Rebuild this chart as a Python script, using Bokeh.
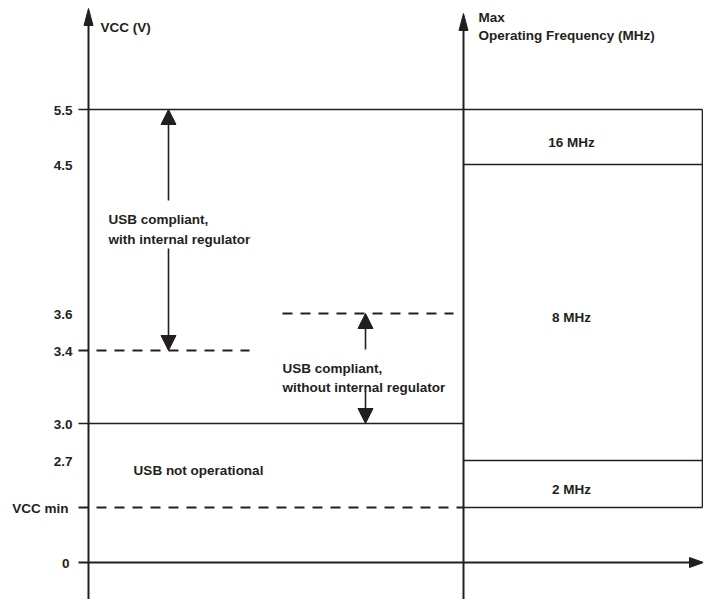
from bokeh.plotting import figure
from bokeh.models import Range1d, Arrow, NormalHead, ColumnDataSource
from bokeh.embed import file_html
from bokeh.resources import INLINE
from bokeh.core.properties import value

# ---------------- data ----------------
vcc_levels = ["5.5", "4.5", "3.6", "3.4", "3.0", "2.7", "VCC min", "0"]
freq_labels = ["16 MHz", "8 MHz", "2 MHz"]
freq_upper = ["5.5", "4.5", "2.7"]
freq_lower = ["4.5", "2.7", "VCC min"]
usb_with_reg = ["3.4", "5.5"]        # USB compliant, with internal regulator
usb_without_reg = ["3.0", "3.6"]     # USB compliant, without internal regulator
usb_not_op = ["VCC min", "3.0"]      # USB not operational
y_axis_title = "VCC (V)"
f_axis_title = ["Max", "Operating Frequency (MHz)"]

# ---------------- layout (diagram positions) ----------------
level_y = dict(zip(vcc_levels, [109, 164, 313, 350, 423, 460, 507, 562]))
X_VAX, X_FAX, X_TICK, X_BOXR = 88, 463, 78, 702
X_A1, X_A2 = 168, 365
INK = "#231f20"
FONT = value("Liberation Sans")
FS = "13.5px"
W, H = 703, 599

p = figure(width=W, height=H, x_range=Range1d(0, W), y_range=Range1d(H, 0),
           output_backend="svg", toolbar_location=None, min_border=0,
           x_axis_location=None, y_axis_location=None)
p.grid.visible = False
p.outline_line_color = None

# axes shafts
p.segment(x0=[X_VAX, X_FAX, X_TICK], y0=[H, H, level_y["0"]],
          x1=[X_VAX, X_FAX, 692], y1=[22, 27, level_y["0"]],
          line_color=INK, line_width=2)
# axis arrowheads
tips = [(X_VAX, 8, "up"), (X_FAX, 13, "up"), (W, level_y["0"], "right")]
xs, ys = [], []
for tx, ty, d in tips:
    if d == "up":
        xs.append([tx, tx - 4.5, tx + 4.5]); ys.append([ty, ty + 17, ty + 17])
    else:
        xs.append([tx, tx - 14, tx - 14]); ys.append([ty, ty - 5, ty + 5])
p.patches(xs, ys, fill_color=INK, line_color=INK, line_width=1)

# solid horizontal lines
solid = [("5.5", X_TICK, X_BOXR), ("3.0", X_TICK, X_FAX),
         (freq_lower[0], X_FAX, X_BOXR), (freq_lower[1], X_FAX, X_BOXR),
         (freq_lower[2], X_FAX, X_BOXR)]
p.segment(x0=[s[1] for s in solid], y0=[level_y[s[0]] for s in solid],
          x1=[s[2] for s in solid], y1=[level_y[s[0]] for s in solid],
          line_color=INK, line_width=1.6)
# box right edge
p.segment(x0=[X_BOXR], y0=[level_y[freq_upper[0]]], x1=[X_BOXR], y1=[level_y[freq_lower[2]]],
          line_color=INK, line_width=1.6)
# dashed lines
dashed = [("3.4", X_TICK, 249), ("3.6", 282, 453), ("VCC min", X_TICK, X_FAX)]
p.segment(x0=[d[1] for d in dashed], y0=[level_y[d[0]] for d in dashed],
          x1=[d[2] for d in dashed], y1=[level_y[d[0]] for d in dashed],
          line_color=INK, line_width=2, line_dash="10 8")

# range arrows
def add_arrow(x, y_start, y_end):
    p.add_layout(Arrow(end=NormalHead(size=15, fill_color=INK, line_color=INK, line_width=1),
                       x_start=x, y_start=y_start, x_end=x, y_end=y_end,
                       line_color=INK, line_width=1.6))

add_arrow(X_A1, 200, level_y[usb_with_reg[1]])
add_arrow(X_A1, 248, level_y[usb_with_reg[0]])
add_arrow(X_A2, 349, level_y[usb_without_reg[1]])
add_arrow(X_A2, 391, level_y[usb_without_reg[0]])

# level labels
lab_x = {"0": 69, "VCC min": 68}
lab_src = ColumnDataSource(dict(x=[lab_x.get(l, 72) for l in vcc_levels],
                                y=[level_y[l] + 1 for l in vcc_levels],
                                t=vcc_levels))
p.text(x="x", y="y", text="t", source=lab_src, text_align="right",
       text_baseline="alphabetic", text_font=FONT, text_font_size=FS,
       text_font_style="bold", text_color=INK)

# frequency labels
fx = [571] * 3
fy = [(level_y[u] + level_y[l]) / 2 + 5 for u, l in zip(freq_upper, freq_lower)]
p.text(x=fx, y=fy, text=freq_labels, text_align="center", text_baseline="alphabetic",
       text_font=FONT, text_font_size=FS, text_font_style="bold", text_color=INK)

# region texts
rt = ["USB compliant,", "with internal regulator",
      "USB compliant,", "without internal regulator",
      "USB not operational",
      y_axis_title, f_axis_title[0], f_axis_title[1]]
rx = [108, 108, 282, 282, 198, 100, 478, 478]
ry = [219, 239, 368, 387, 470, 27, 17, 35]
ra = ["left", "left", "left", "left", "center", "left", "left", "left"]
p.text(x=rx, y=ry, text=rt, text_align=ra, text_baseline="alphabetic",
       text_font=FONT, text_font_size=FS, text_font_style="bold", text_color=INK)

open("out.html", "w").write(file_html(p, INLINE))
